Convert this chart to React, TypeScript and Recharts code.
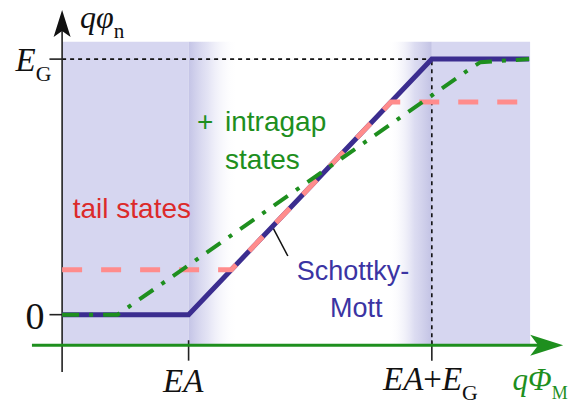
import React from 'react';
import {
  ComposedChart,
  Line,
  XAxis,
  YAxis,
  ReferenceArea,
  ReferenceLine,
  ReferenceDot,
} from 'recharts';

// energies in units where EA = 1.3 and EG = 2.5
const EA = 1.3;
const EG = 2.5;

const schottkyX = [0, 1.3, 3.8, 4.8];
const schottkyY = [0, 0, 2.5, 2.5];
const tailX = [0, 1.74, 3.38, 4.8];
const tailY = [0.44, 0.44, 2.08, 2.08];
const intragapX = [0, 0.57, 4.2, 4.3, 4.8];
const intragapY = [0, 0, 2.41, 2.47, 2.5];

const xTicks = [EA, EA + EG];
const yTicks = [0, EG];

const toPoints = (xs: number[], ys: number[]) => xs.map((x, i) => ({ x, y: ys[i] }));

const SERIF = '"Liberation Serif", "Times New Roman", serif';
const SANS = '"Liberation Sans", Arial, sans-serif';

const BLUE = '#3b2d8f';
const PINK = '#ff8c8c';
const GREEN = '#1e8f1e';
const RED = '#dc2a2a';
const TEXT_BLUE = '#3b34a3';
const SHADE = '#d6d6f0';

type Part = { t: string; i?: boolean; sub?: boolean };

function mathText(
  parts: Part[],
  size: number,
  fill: string,
  anchor: 'start' | 'end' | 'middle' = 'start',
  subScale = 0.66,
) {
  return (p: any) => (
    <text x={p.cx} y={p.cy} fontFamily={SERIF} fontSize={size} fill={fill} textAnchor={anchor}>
      {parts.map((q, k) =>
        q.sub ? (
          <tspan key={k} fontSize={size * subScale} dy={size * 0.3}>
            {q.t}
          </tspan>
        ) : (
          <tspan key={k} fontStyle={q.i ? 'italic' : 'normal'}>
            {q.t}
          </tspan>
        ),
      )}
    </text>
  );
}

function sansText(lines: { t: string; dx?: number }[], fill: string, size = 28) {
  return (p: any) => (
    <text x={p.cx} y={p.cy} fontFamily={SANS} fontSize={size} fill={fill}>
      {lines.map((l, k) => (
        <tspan key={k} x={p.cx + (l.dx ?? 0)}>
          {l.t}
        </tspan>
      ))}
    </text>
  );
}

const upArrow = (p: any) => (
  <polygon
    points={`${p.cx},${p.cy} ${p.cx - 8.5},${p.cy + 27} ${p.cx},${p.cy + 21} ${p.cx + 8.5},${p.cy + 27}`}
    fill="#111"
  />
);

const rightArrow = (p: any) => (
  <polygon
    points={`${p.cx},${p.cy} ${p.cx - 33},${p.cy - 10.5} ${p.cx - 25},${p.cy} ${p.cx - 33},${p.cy + 10.5}`}
    fill={GREEN}
  />
);

export default function App() {
  return (
    <div style={{ position: 'absolute', left: 0, top: 0 }}>
      <ComposedChart width={576} height={404} margin={{ top: 8, right: 6, bottom: 28, left: 30 }}>
        <defs>
          <linearGradient id="fadeRight" x1="0" y1="0" x2="1" y2="0">
            <stop offset="0%" stopColor="#c4c4e6" stopOpacity={1} />
            <stop offset="40%" stopColor="#d8d8f0" stopOpacity={0.7} />
            <stop offset="100%" stopColor="#ffffff" stopOpacity={0} />
          </linearGradient>
          <linearGradient id="fadeLeft" x1="0" y1="0" x2="1" y2="0">
            <stop offset="0%" stopColor="#ffffff" stopOpacity={0} />
            <stop offset="60%" stopColor="#d4d4ee" stopOpacity={0.8} />
            <stop offset="100%" stopColor="#c2c2e4" stopOpacity={1} />
          </linearGradient>
        </defs>
        <XAxis type="number" dataKey="x" domain={[-0.33, 5.22]} allowDataOverflow hide />
        <YAxis type="number" dataKey="y" domain={[-0.6, 3.0]} allowDataOverflow hide />

        {/* shaded regions */}
        <ReferenceArea x1={0} x2={EA} y1={-0.3} y2={2.67} fill={SHADE} fillOpacity={1} stroke="none" />
        <ReferenceArea x1={EA} x2={1.8} y1={-0.3} y2={2.67} fill="url(#fadeRight)" fillOpacity={1} stroke="none" />
        <ReferenceArea x1={3.35} x2={EA + EG} y1={-0.3} y2={2.67} fill="url(#fadeLeft)" fillOpacity={1} stroke="none" />
        <ReferenceArea x1={EA + EG} x2={4.81} y1={-0.3} y2={2.67} fill={SHADE} fillOpacity={1} stroke="none" />

        {/* dotted guides */}
        <ReferenceLine
          segment={[{ x: 0, y: EG }, { x: EA + EG, y: EG }]}
          stroke="#111"
          strokeWidth={1.6}
          strokeDasharray="4 4"
        />
        <ReferenceLine
          segment={[{ x: EA + EG, y: -0.3 }, { x: EA + EG, y: EG }]}
          stroke="#111"
          strokeWidth={1.6}
          strokeDasharray="4 4"
        />

        {/* axes */}
        <ReferenceLine segment={[{ x: 0, y: -0.56 }, { x: 0, y: 2.8 }]} stroke="#222" strokeWidth={1.6} />
        {xTicks.map((t) => (
          <ReferenceLine key={t} segment={[{ x: t, y: -0.25 }, { x: t, y: -0.45 }]} stroke="#222" strokeWidth={1.6} />
        ))}
        {yTicks.map((t) => (
          <ReferenceLine key={t} segment={[{ x: -0.13, y: t }, { x: 0, y: t }]} stroke="#222" strokeWidth={1.6} />
        ))}

        {/* pointer to the Schottky-Mott curve */}
        <ReferenceLine segment={[{ x: 2.157, y: 0.868 }, { x: 2.32, y: 0.574 }]} stroke="#111" strokeWidth={1.5} />

        <Line
          data={toPoints(schottkyX, schottkyY)}
          dataKey="y"
          type="linear"
          stroke={BLUE}
          strokeWidth={5}
          dot={false}
          activeDot={false}
          isAnimationActive={false}
        />
        <Line
          data={toPoints(tailX, tailY)}
          dataKey="y"
          type="linear"
          stroke={PINK}
          strokeWidth={5}
          strokeDasharray="20 19"
          dot={false}
          activeDot={false}
          isAnimationActive={false}
        />
        <Line
          data={toPoints(intragapX, intragapY)}
          dataKey="y"
          type="linear"
          stroke={GREEN}
          strokeWidth={4}
          strokeDasharray="17 10 4 10"
          dot={false}
          activeDot={false}
          isAnimationActive={false}
        />

        <ReferenceLine segment={[{ x: -0.31, y: -0.3 }, { x: 4.9, y: -0.3 }]} stroke={GREEN} strokeWidth={3} />
        <ReferenceDot x={5.15} y={-0.3} r={1} shape={rightArrow} ifOverflow="visible" />
        <ReferenceDot x={0} y={2.98} r={1} shape={upArrow} ifOverflow="visible" />

        {/* axis labels */}
        <ReferenceDot
          x={0.184}
          y={2.8}
          r={1}
          ifOverflow="visible"
          shape={mathText([{ t: 'qφ', i: true }, { t: 'n', sub: true }], 32, '#111')}
        />
        <ReferenceDot
          x={-0.11}
          y={2.384}
          r={1}
          ifOverflow="visible"
          shape={mathText([{ t: 'E', i: true }, { t: 'G', sub: true }], 33, '#111', 'end')}
        />
        <ReferenceDot
          x={-0.18}
          y={-0.14}
          r={1}
          ifOverflow="visible"
          shape={mathText([{ t: '0' }], 38, '#111', 'end')}
        />
        <ReferenceDot
          x={1.037}
          y={-0.756}
          r={1}
          ifOverflow="visible"
          shape={mathText([{ t: 'EA', i: true }], 33, '#111')}
        />
        <ReferenceDot
          x={3.298}
          y={-0.737}
          r={1}
          ifOverflow="visible"
          shape={mathText([{ t: 'EA', i: true }, { t: '+' }, { t: 'E', i: true }, { t: 'G', sub: true }], 33, '#111')}
        />
        <ReferenceDot
          x={4.63}
          y={-0.737}
          r={1}
          ifOverflow="visible"
          shape={mathText([{ t: 'qΦ', i: true }, { t: 'M', sub: true }], 31, GREEN, 'start', 0.58)}
        />

        {/* curve annotations */}
        <ReferenceDot
          x={1.387}
          y={1.797}
          r={1}
          ifOverflow="visible"
          shape={sansText([{ t: '+' }, { t: 'intragap', dx: 28 }], GREEN)}
        />
        <ReferenceDot x={1.675} y={1.426} r={1} ifOverflow="visible" shape={sansText([{ t: 'states' }], GREEN)} />
        <ReferenceDot x={0.109} y={0.941} r={1} ifOverflow="visible" shape={sansText([{ t: 'tail states' }], RED)} />
        <ReferenceDot
          x={2.411}
          y={0.339}
          r={1}
          ifOverflow="visible"
          shape={sansText([{ t: 'Schottky-' }], TEXT_BLUE, 27)}
        />
        <ReferenceDot x={2.753} y={-0.022} r={1} ifOverflow="visible" shape={sansText([{ t: 'Mott' }], TEXT_BLUE, 27)} />
      </ComposedChart>
    </div>
  );
}
